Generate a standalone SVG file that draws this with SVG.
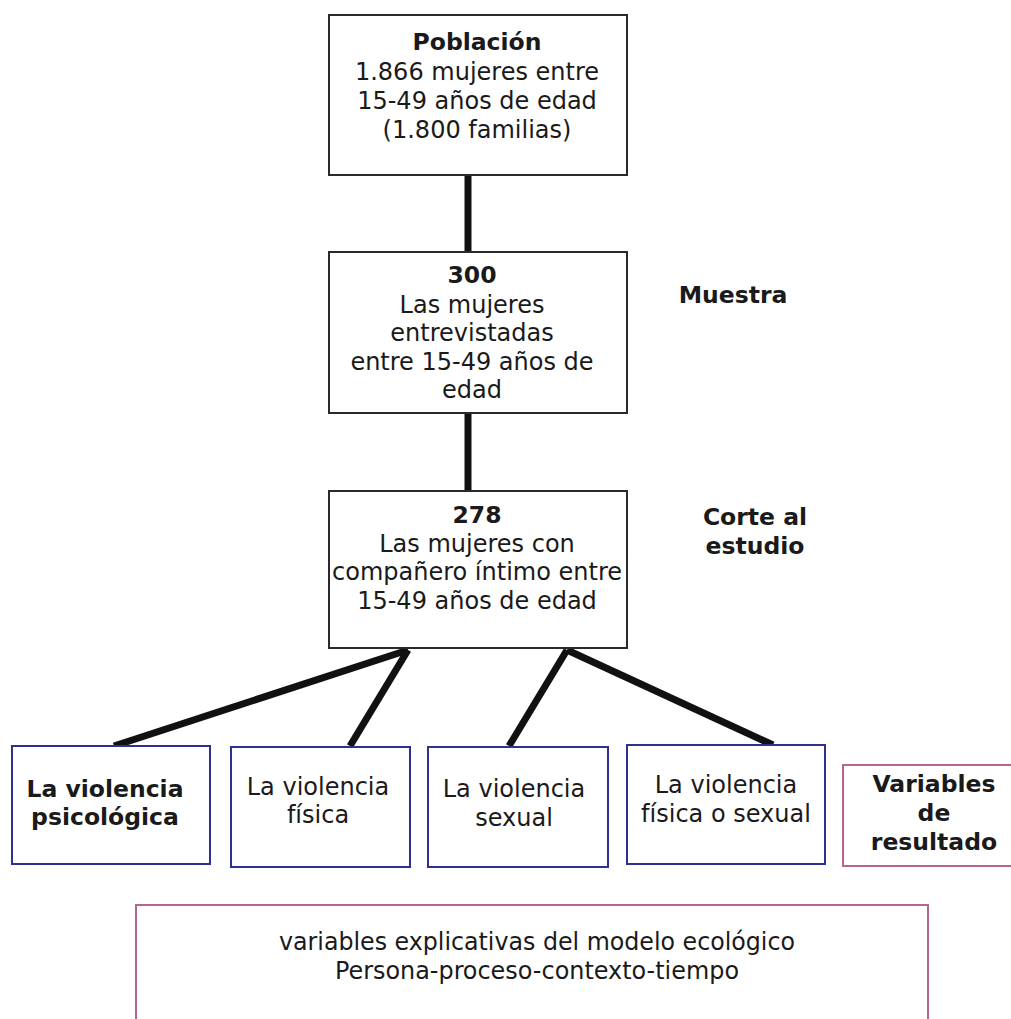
<svg xmlns="http://www.w3.org/2000/svg" width="1011" height="1019" viewBox="0 0 1011 1019">
<style>
text{font-family:"DejaVu Sans","Liberation Sans",sans-serif;font-size:24px;fill:#1a1a1a;text-anchor:middle}
.b{font-weight:bold;font-size:23.5px}
.cond{font-family:"DejaVu Sans Condensed","DejaVu Sans","Liberation Sans",sans-serif;font-stretch:condensed;font-size:24px}
.bk{fill:#fff;stroke:#2a2a2a;stroke-width:2}
.bl{fill:#fff;stroke:#2e3192;stroke-width:2}
.pk{fill:#fff;stroke:#b4668f;stroke-width:2}
.ln{stroke:#111;stroke-width:7;stroke-linecap:butt;fill:none}
</style>
<rect width="1011" height="1019" fill="#fff"/>
<g id="connectors">
<line class="ln" x1="468" y1="175" x2="468" y2="252"/>
<line class="ln" x1="468" y1="413" x2="468" y2="491"/>
<line class="ln" x1="408" y1="650" x2="114" y2="746"/>
<line class="ln" x1="408" y1="650" x2="350" y2="746"/>
<line class="ln" x1="567" y1="650" x2="509" y2="746"/>
<line class="ln" x1="567" y1="650" x2="773" y2="745"/>
</g>
<g id="poblacion">
<rect class="bk" x="329" y="15" width="298" height="160"/>
<text class="b" x="477" y="50">Población</text>
<text x="477" y="80">1.866 mujeres entre</text>
<text x="477" y="109">15-49 años de edad</text>
<text x="477" y="138">(1.800 familias)</text>
</g>
<g id="muestra">
<rect class="bk" x="329" y="252" width="298" height="161"/>
<text class="b" x="472" y="283">300</text>
<text x="472" y="313">Las mujeres</text>
<text x="472" y="341">entrevistadas</text>
<text x="472" y="370">entre 15-49 años de</text>
<text x="472" y="398">edad</text>
</g>
<g id="muestra-label">
<text class="b" x="733" y="303">Muestra</text>
</g>
<g id="corte">
<rect class="bk" x="329" y="491" width="298" height="157"/>
<text class="b" x="477" y="523">278</text>
<text x="477" y="552">Las mujeres con</text>
<text x="477" y="580">compañero íntimo entre</text>
<text x="477" y="609">15-49 años de edad</text>
</g>
<g id="corte-label">
<text class="b" x="755" y="525">Corte al</text>
<text class="b" x="755" y="554">estudio</text>
</g>
<g id="psicologica">
<rect class="bl" x="12" y="746" width="198" height="118"/>
<text class="b" x="105" y="797">La violencia</text>
<text class="b" x="105" y="825">psicológica</text>
</g>
<g id="fisica">
<rect class="bl" x="231" y="747" width="179" height="120"/>
<text x="318" y="795">La violencia</text>
<text x="318" y="823">física</text>
</g>
<g id="sexual">
<rect class="bl" x="428" y="747" width="180" height="120"/>
<text x="514" y="797">La violencia</text>
<text x="514" y="826">sexual</text>
</g>
<g id="fisica-sexual">
<rect class="bl" x="627" y="745" width="198" height="119"/>
<text x="726" y="793">La violencia</text>
<text x="726" y="822">física o sexual</text>
</g>
<g id="variables-resultado">
<rect class="pk" x="843" y="765" width="175" height="101"/>
<text class="b" x="934" y="792">Variables</text>
<text class="b" x="934" y="821">de</text>
<text class="b" x="934" y="850">resultado</text>
</g>
<g id="explicativas">
<rect class="pk" x="136" y="905" width="792" height="130"/>
<text class="cond" x="537" y="950" textLength="516" lengthAdjust="spacingAndGlyphs">variables explicativas del modelo ecológico</text>
<text class="cond" x="537" y="979" textLength="404" lengthAdjust="spacingAndGlyphs">Persona-proceso-contexto-tiempo</text>
</g>
</svg>
